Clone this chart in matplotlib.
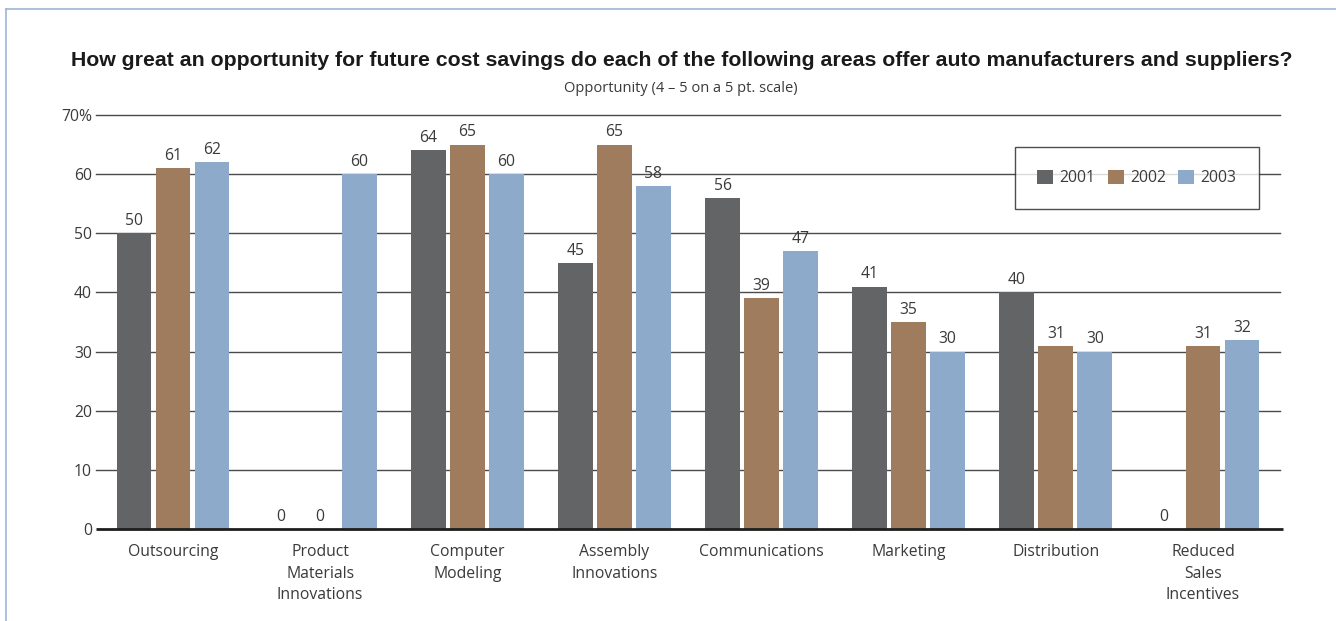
import matplotlib
matplotlib.use("Agg")
import matplotlib.pyplot as plt
import numpy as np
from matplotlib.lines import Line2D

categories = ["Outsourcing", "Product\nMaterials\nInnovations", "Computer\nModeling",
              "Assembly\nInnovations", "Communications", "Marketing", "Distribution",
              "Reduced\nSales\nIncentives"]
years = ["2001", "2002", "2003"]
v2001 = [50, 0, 64, 45, 56, 41, 40, 0]
v2002 = [61, 0, 65, 65, 39, 35, 31, 31]
v2003 = [62, 60, 60, 58, 47, 30, 30, 32]
yticks = [0, 10, 20, 30, 40, 50, 60, 70]
ytick_labels = ["0", "10", "20", "30", "40", "50", "60", "70%"]

colors = ["#636466", "#a07c5e", "#8eaacb"]
text_color = "#3a3a3a"
plt.rcParams['font.family'] = ['Open Sans', 'DejaVu Sans']

W, H = 1336, 621
fig = plt.figure(figsize=(W / 100, H / 100), dpi=100)
ax = fig.add_axes([96 / W, (H - 529) / H, (1280 - 96) / W, (529 - 115) / H])

x = np.arange(len(categories))
width = 0.237
step = 0.265
series = [v2001, v2002, v2003]
for i, (vals, c, yr) in enumerate(zip(series, colors, years)):
    pos = x + (i - 1) * step
    ax.bar(pos, vals, width=width, color=c, label=yr, zorder=3)
    for p, v in zip(pos, vals):
        ax.text(p, v + 0.7, f"{v}", ha="center", va="bottom",
                fontsize=11.3, color=text_color, zorder=4)

ax.set_xlim(-0.523, len(categories) - 1 + 0.523)
ax.set_ylim(0, 70)
ax.set_yticks(yticks)
ax.set_yticklabels(ytick_labels, fontsize=11.3, color=text_color)
ax.set_xticks(x)
ax.set_xticklabels(categories, fontsize=11.3, color=text_color, linespacing=1.45)
ax.tick_params(axis="both", length=0)
ax.tick_params(axis="x", pad=11)
ax.tick_params(axis="y", pad=3)
for s in ax.spines.values():
    s.set_visible(False)

for t in yticks[1:]:
    ax.axhline(t, color="#4a4a4a", lw=1.0, zorder=1, clip_on=False)
ax.plot([-0.523, len(categories) - 1 + 0.54], [0, 0], color="#1e1e1e", lw=2.0,
        zorder=5, clip_on=False, solid_capstyle="butt")

leg = ax.legend(loc="upper right", bbox_to_anchor=(1 - (1280 - 1259) / 1184, 1 - (147 - 115) / 414),
                ncol=3, frameon=True, fancybox=False, edgecolor="#222222",
                fontsize=11.3, handlelength=1.0, handleheight=1.0,
                columnspacing=0.8, handletextpad=0.4, borderpad=1.45,
                borderaxespad=0)
leg.get_frame().set_linewidth(1.0)
for t in leg.get_texts():
    t.set_color(text_color)
leg.set_zorder(6)

fig.text(682 / W, 1 - 61 / H,
         "How great an opportunity for future cost savings do each of the following areas offer auto manufacturers and suppliers?",
         ha="center", va="center", fontsize=15.3, fontweight="bold", color="#1a1a1a",
         family=["Liberation Sans", "DejaVu Sans"])
fig.text(681 / W, 1 - 88 / H, "Opportunity (4 \u2013 5 on a 5 pt. scale)",
         ha="center", va="center", fontsize=10.5, color=text_color)

# frame border along the top and left of the figure
border = "#9db5d5"
fig.add_artist(Line2D([6 / W, 1], [1 - 9 / H, 1 - 9 / H], color=border, lw=1.2,
                      transform=fig.transFigure))
fig.add_artist(Line2D([6 / W, 6 / W], [0, 1 - 9 / H], color=border, lw=1.2,
                      transform=fig.transFigure))

fig.savefig("out.png", dpi=100, facecolor="white")
